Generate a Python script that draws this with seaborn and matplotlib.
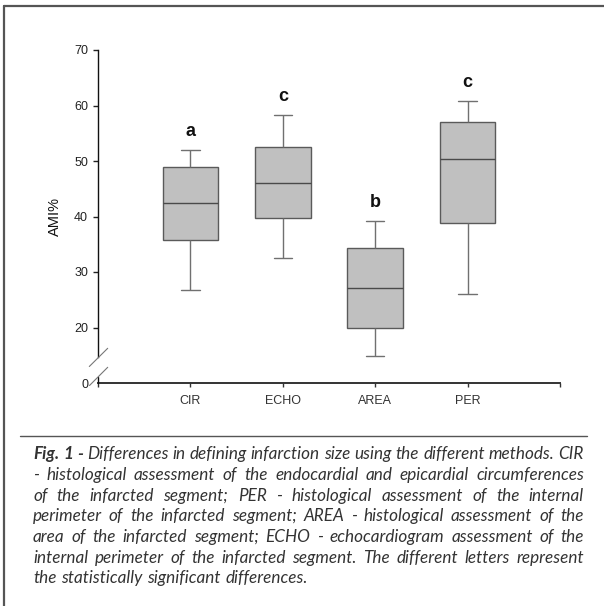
import numpy as np
import pandas as pd
import matplotlib
matplotlib.use("Agg")
import matplotlib.pyplot as plt
import seaborn as sns
from matplotlib.lines import Line2D

# ---------------- data ----------------
methods = ["CIR", "ECHO", "AREA", "PER"]
whisker_low = [26.7, 32.6, 14.9, 26.1]
q1 = [35.8, 39.7, 20.0, 38.8]
median = [42.5, 46.0, 27.1, 50.3]
q3 = [48.9, 52.6, 34.3, 57.0]
whisker_high = [52.0, 58.3, 39.2, 60.8]
letters = ["a", "c", "b", "c"]
ytick_values = [10, 20, 30, 40, 50, 60, 70]
ytick_labels = ["0", "20", "30", "40", "50", "60", "70"]

caption_lines = [
    "Fig. 1 - Differences in defining infarction size using the different methods. CIR",
    "-  histological assessment of the endocardial and epicardial circumferences",
    "of the infarcted segment; PER - histological assessment of the internal",
    "perimeter of the infarcted segment; AREA - histological assessment of the",
    "area of the infarcted segment; ECHO - echocardiogram assessment of the",
    "internal perimeter of the infarcted segment. The different letters represent",
    "the statistically significant differences.",
]

# five-number summary of each method -> long table for seaborn
rows = []
for m, lo, a, md, b, hi in zip(methods, whisker_low, q1, median, q3, whisker_high):
    for v in (lo, a, md, b, hi):
        rows.append({"method": m, "AMI": v})
df = pd.DataFrame(rows)

# ---------------- figure ----------------
sns.set_style("ticks")
plt.rcParams["font.family"] = ["Liberation Sans", "DejaVu Sans"]

W, H = 604, 606
fig = plt.figure(figsize=(W / 100, H / 100), dpi=100)

def fx(px):
    return px / W

def fy(py):
    return 1 - py / H

ax = fig.add_axes([fx(98), fy(383), fx(560) - fx(98), fy(50) - fy(383)])

sns.boxplot(data=df, x="method", y="AMI", order=methods, width=0.6,
            whis=(0, 100), color="#c0c0c0", saturation=1,
            linecolor="#5a5a5a", linewidth=1.0, fliersize=0,
            whiskerprops=dict(color="#707070"), capprops=dict(color="#707070"),
            medianprops=dict(color="#4a4a4a"), ax=ax)

# narrow the caps
for ln in ax.lines:
    x = np.asarray(ln.get_xdata(), dtype=float)
    y = np.asarray(ln.get_ydata(), dtype=float)
    if len(x) == 2 and y[0] == y[1] and 0 < abs(x[1] - x[0]) < 0.5:
        c = x.mean()
        ln.set_xdata([c - 0.1, c + 0.1])

ax.set_xlim(-1, 4)
ax.set_ylim(10, 70)
ax.set_xticks(range(-1, len(methods) + 1), [""] + methods + [""])
ax.set_yticks(ytick_values, ytick_labels)
ax.set_xlabel("")
ax.set_ylabel("AMI%", fontsize=10.5, labelpad=9, color="#111111")

ax.tick_params(axis="y", direction="out", length=3.6, width=1, pad=3.6,
               labelsize=9, colors="#222222")
ax.tick_params(axis="x", direction="out", length=3, width=1, pad=6,
               labelsize=9, colors="#333333")
ax.yaxis.get_major_ticks()[0].tick1line.set_visible(False)

for s in ("top", "right"):
    ax.spines[s].set_visible(False)
ax.spines["left"].set_bounds(14.7, 70)
ax.spines["left"].set_color("#111111")
ax.spines["left"].set_linewidth(1.0)
ax.spines["bottom"].set_color("#333333")
ax.spines["bottom"].set_linewidth(1.4)

for i, (lt, hi) in enumerate(zip(letters, whisker_high)):
    ax.text(i, hi + 3.4, lt, ha="center", va="center", fontsize=13,
            fontweight="bold", color="#111111")

# axis break marks
def fline(x0, y0, x1, y1, **kw):
    fig.add_artist(Line2D([fx(x0), fx(x1)], [fy(y0), fy(y1)],
                          transform=fig.transFigure, **kw))

fline(98, 377, 98, 383, color="#111111", lw=1.0)
fline(89.3, 366.5, 107.7, 348.3, color="#777777", lw=0.8)
fline(89.5, 385.5, 107.7, 367.3, color="#777777", lw=0.8)

# frame and separator
fline(4, 5.5, 604, 5.5, color="#555555", lw=1.6)
fline(4, 5.5, 4, 606, color="#555555", lw=1.6)
fline(20, 435.5, 587, 435.5, color="#555555", lw=1.0)

# ---------------- justified caption ----------------
renderer = fig.canvas.get_renderer()
left_px, right_px = 33, 584
base0, step = 459.3, 20.65

def cap_font(fs):
    return dict(family=["Lato", "DejaVu Sans"], style="italic", fontsize=fs,
                color="#333333")

# choose the size so the widest full line fits with natural spacing
probe_fs = 10
widest = 0
for li, line in enumerate(caption_lines[:-1]):
    t = fig.text(0, 0, line, **cap_font(probe_fs))
    widest = max(widest, t.get_window_extent(renderer).width)
    t.remove()
fs = probe_fs * (right_px - left_px) / widest * 0.995

for li, line in enumerate(caption_lines):
    words = line.split()
    items = []
    for wi, w in enumerate(words):
        bold = (li == 0 and wi < 3)
        t = fig.text(0, 0, w, ha="left", va="baseline",
                     fontweight="bold" if bold else "normal", **cap_font(fs))
        items.append(t)
    widths = [t.get_window_extent(renderer).width for t in items]
    last = li == len(caption_lines) - 1
    if last or len(items) == 1:
        gap = 0.28 * fs * 100 / 72
    else:
        gap = (right_px - left_px - sum(widths)) / (len(items) - 1)
    xcur = left_px
    yb = base0 + li * step
    for t, wdt in zip(items, widths):
        t.set_position((fx(xcur), fy(yb)))
        xcur += wdt + gap

fig.savefig("out.png", dpi=100)
